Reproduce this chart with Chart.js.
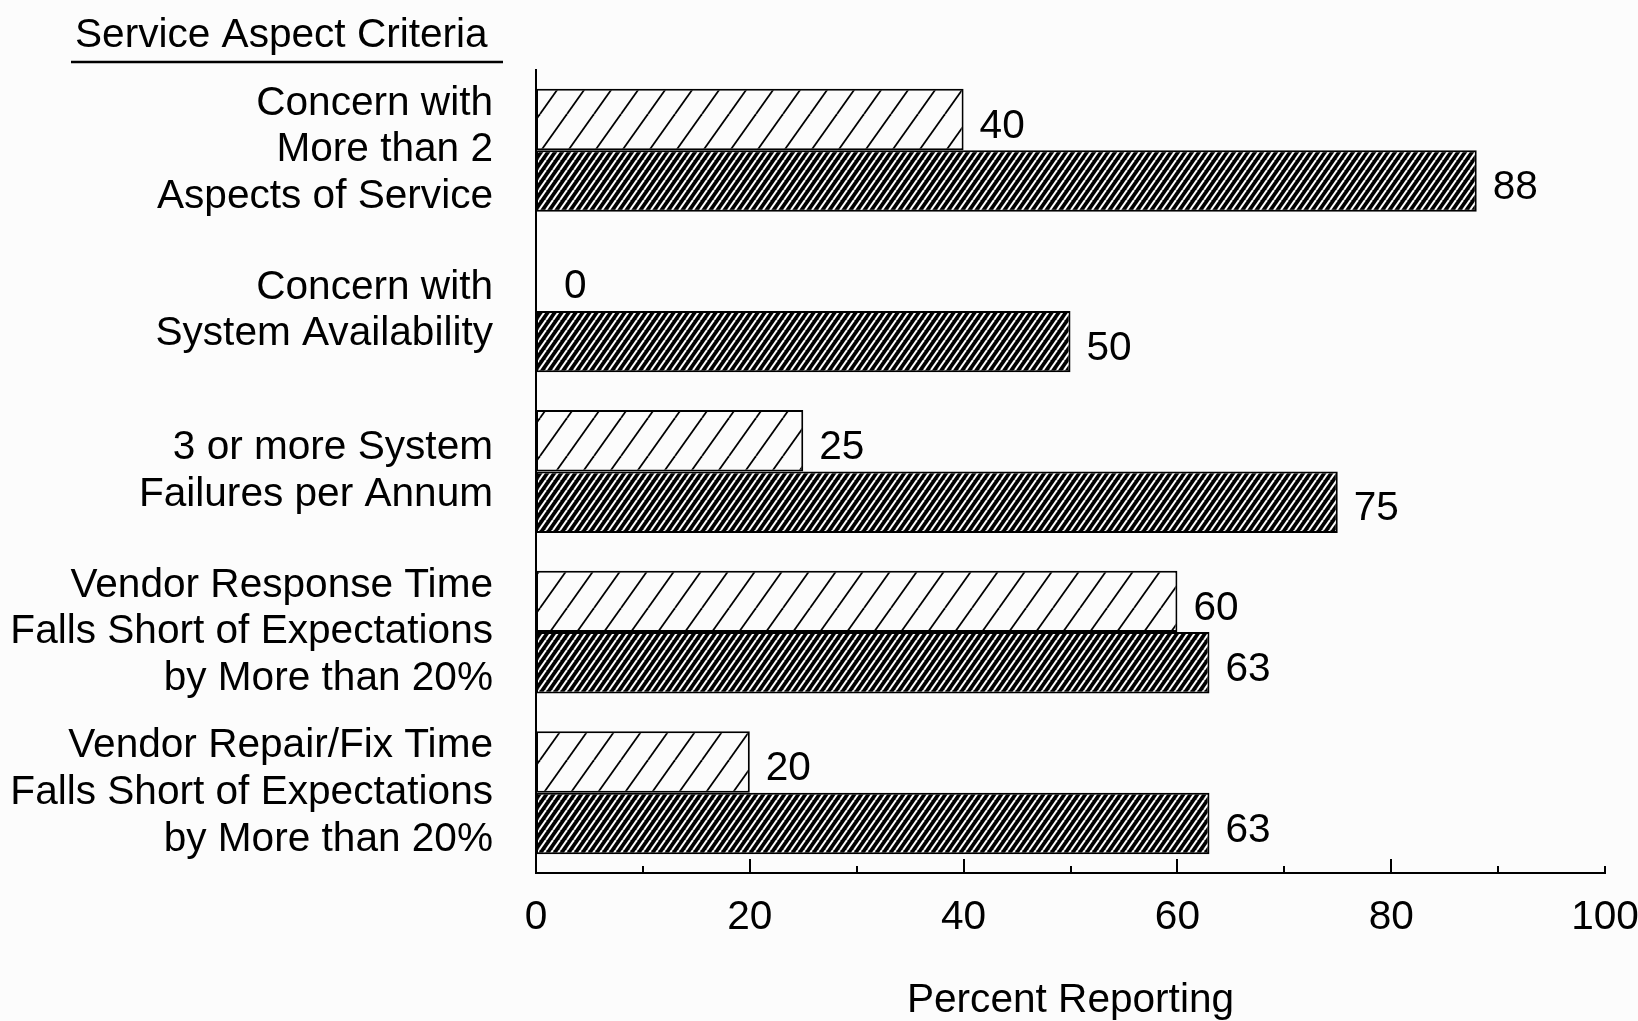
<!DOCTYPE html>
<html><head><meta charset="utf-8">
<script src="https://cdn.jsdelivr.net/npm/chart.js@4/dist/chart.umd.min.js"></script>
<style>html,body{margin:0;padding:0;background:#fcfcfc;} canvas{display:block;background:#fcfcfc;}</style>
</head><body>
<canvas id="c" width="1638" height="1021"></canvas>
<script>
const categories = [
  ['Concern with', 'More than 2', 'Aspects of Service'],
  ['Concern with', 'System Availability'],
  ['3 or more System', 'Failures per Annum'],
  ['Vendor Response Time', 'Falls Short of Expectations', 'by More than 20%'],
  ['Vendor Repair/Fix Time', 'Falls Short of Expectations', 'by More than 20%']
];
const lightValues = [40, 0, 25, 60, 20];
const darkValues = [88, 50, 75, 63, 63];
const xTickLabels = [0, 20, 40, 60, 80, 100];
const titleText = 'Service Aspect Criteria';
const axisTitleText = 'Percent Reporting';

const FONT = '"Liberation Sans", Arial, Helvetica, sans-serif';
const FS = 40.6;
const BG = '#fcfcfc';

function makePattern(w, h, bg, fg, lw) {
  const t = document.createElement('canvas');
  t.width = w; t.height = h;
  const g = t.getContext('2d');
  g.fillStyle = bg; g.fillRect(0, 0, w, h);
  g.strokeStyle = fg; g.lineWidth = lw;
  for (let k = -1; k <= 1; k++) {
    g.beginPath();
    g.moveTo(k * w, h);
    g.lineTo(k * w + w, 0);
    g.stroke();
  }
  return g.createPattern(t, 'repeat');
}
const ctx = document.getElementById('c').getContext('2d');
const lightPattern = makePattern(27, 38, BG, '#000', 1.8);
const darkPattern = makePattern(7, 10, '#000', BG, 2.0);

const valueLabels = {
  id: 'valueLabels',
  afterDatasetsDraw(chart) {
    const c = chart.ctx;
    c.save();
    c.font = FS + 'px ' + FONT;
    c.fillStyle = '#000';
    c.textAlign = 'left';
    c.textBaseline = 'middle';
    chart.data.datasets.forEach((ds, i) => {
      chart.getDatasetMeta(i).data.forEach((el, j) => {
        const v = ds.data[j];
        c.fillText(String(v), el.x + (v === 0 ? 28 : 16), el.y + 7);
      });
    });
    c.restore();
  }
};

const decorations = {
  id: 'decorations',
  afterDraw(chart) {
    const c = chart.ctx, xs = chart.scales.x, b = chart.chartArea.bottom;
    c.save();
    c.strokeStyle = '#000'; c.lineWidth = 2;
    c.beginPath();
    for (let v = 10; v <= 100; v += 10) {
      const px = Math.round(xs.getPixelForValue(v));
      const len = (v % 20 === 0 && v !== 100) ? 14 : 7;
      c.moveTo(px, b); c.lineTo(px, b - len);
    }
    c.stroke();
    // header above the category labels, with underline
    c.fillStyle = '#000';
    c.font = FS + 'px ' + FONT;
    c.textAlign = 'left';
    c.textBaseline = 'middle';
    c.fillText(titleText, 75, 36);
    c.lineWidth = 2.5;
    c.beginPath();
    c.moveTo(71, 62); c.lineTo(503, 62);
    c.stroke();
    c.restore();
  }
};

new Chart(ctx, {
  type: 'bar',
  data: {
    labels: categories,
    datasets: [
      { label: 'A', data: lightValues, backgroundColor: lightPattern, borderColor: '#000', borderWidth: 2, borderSkipped: false, categoryPercentage: 0.765, barPercentage: 1 },
      { label: 'B', data: darkValues, backgroundColor: darkPattern, borderColor: '#000', borderWidth: 2, borderSkipped: false, categoryPercentage: 0.765, barPercentage: 1 }
    ]
  },
  options: {
    indexAxis: 'y',
    responsive: false,
    animation: false,
    devicePixelRatio: 1,
    layout: { padding: { left: 0, right: 33, top: 70, bottom: 0 } },
    plugins: {
      legend: { display: false },
      tooltip: { enabled: false },
      title: { display: false }
    },
    scales: {
      x: {
        min: 0, max: 100,
        grid: { display: false, drawTicks: false },
        border: { display: true, color: '#000', width: 2 },
        ticks: {
          stepSize: 10, autoSkip: false, maxRotation: 0, padding: 20, color: '#000',
          font: { family: FONT, size: FS, lineHeight: 1.2 },
          callback: (v) => xTickLabels.includes(v) ? String(v) : ''
        },
        title: {
          display: true, text: axisTitleText, color: '#000',
          font: { family: FONT, size: FS, lineHeight: 1.2 },
          padding: { top: 0, bottom: -4 }
        },
        afterFit(s) { s.height = 148; s.paddingLeft = 0; s.paddingRight = 0; }
      },
      y: {
        grid: { display: false, drawTicks: false },
        border: { display: true, color: '#000', width: 2 },
        ticks: {
          padding: 43, color: '#000', autoSkip: false,
          font: { family: FONT, size: FS, lineHeight: 1.15 }
        },
        afterFit(s) { s.width = 536; s.paddingTop = 0; s.paddingBottom = 0; }
      }
    }
  },
  plugins: [valueLabels, decorations]
});
</script>
</body></html>
